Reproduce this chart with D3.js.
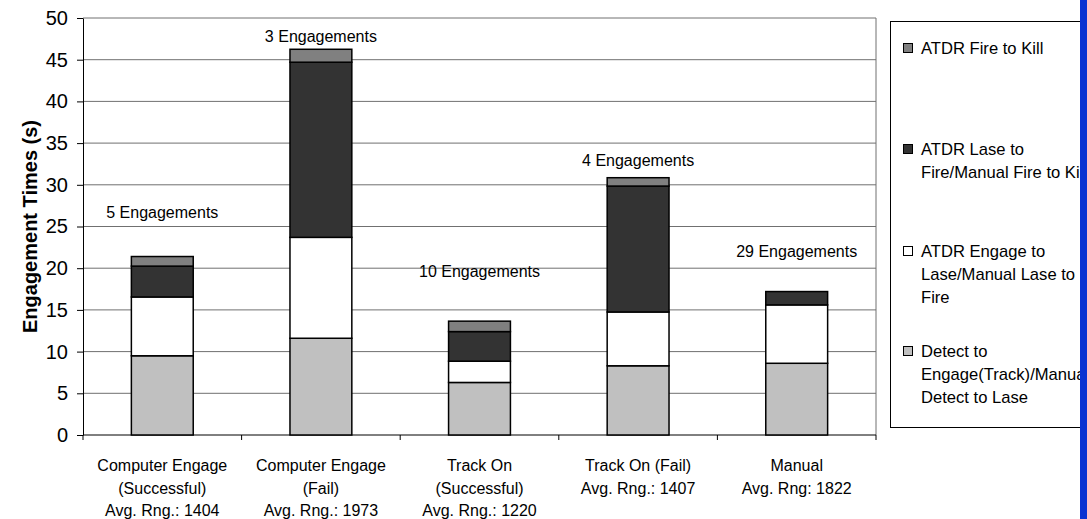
<!DOCTYPE html>
<html>
<head>
<meta charset="utf-8">
<script src="https://cdn.jsdelivr.net/npm/d3@7"></script>
<style>
  body { margin: 0; background: #fff; }
  svg { display: block; font-family: "Liberation Sans", Arial, sans-serif; }
</style>
</head>
<body>
<div id="chart"></div>
<script>
// categories (multi-line axis labels)
const categories = ["CE Success", "CE Fail", "TO Success", "TO Fail", "Manual"];
const categoryLabels = [
  ["Computer Engage", "(Successful)", "Avg. Rng.: 1404"],
  ["Computer Engage", "(Fail)", "Avg. Rng.: 1973"],
  ["Track On", "(Successful)", "Avg. Rng.: 1220"],
  ["Track On (Fail)", "Avg. Rng.: 1407"],
  ["Manual", "Avg. Rng: 1822"]
];

// series values (seconds), bottom to top
const detectToEngage = [9.5, 11.6, 6.3, 8.3, 8.6];
const engageToLase   = [7.05, 12.1, 2.55, 6.45, 7.0];
const laseToFire     = [3.7, 21.0, 3.55, 15.1, 1.6];
const fireToKill     = [1.15, 1.55, 1.25, 1.0, 0];

// engagement count labels and the level (s) they sit at
const engagementLabels = ["5 Engagements", "3 Engagements", "10 Engagements", "4 Engagements", "29 Engagements"];
const engagementLabelLevel = [26.0, 47.1, 18.9, 32.3, 21.3];

const yTicks = [0, 5, 10, 15, 20, 25, 30, 35, 40, 45, 50];

const legendItems = [
  { key: "fire", lines: ["ATDR Fire to Kill"] },
  { key: "lase", lines: ["ATDR Lase to", "Fire/Manual Fire to Kill"] },
  { key: "engage", lines: ["ATDR Engage to", "Lase/Manual Lase to", "Fire"] },
  { key: "detect", lines: ["Detect to", "Engage(Track)/Manual", "Detect to Lase"] }
];

const keys = ["detect", "engage", "lase", "fire"];
const colors = { detect: "#c0c0c0", engage: "#ffffff", lase: "#333333", fire: "#808080" };

const rows = categories.map((c, i) => ({
  cat: c,
  detect: detectToEngage[i],
  engage: engageToLase[i],
  lase: laseToFire[i],
  fire: fireToKill[i]
}));

const margin = { top: 18, right: 211, bottom: 84, left: 83 },
  width = 1087 - margin.left - margin.right,
  height = 519 - margin.top - margin.bottom;

const svg = d3.select("#chart").append("svg")
  .attr("width", 1087)
  .attr("height", 519);

const g = svg.append("g")
  .attr("transform", "translate(" + margin.left + "," + margin.top + ")");

const x = d3.scaleBand().domain(categories).range([0, width]).padding(0);
const y = d3.scaleLinear().domain([0, 50]).range([height, 0]);
const barW = x.step() * 0.39;

// grid lines
g.selectAll(".grid")
  .data(yTicks.slice(1))
  .enter().append("line")
  .attr("x1", 0)
  .attr("x2", width)
  .attr("y1", d => y(d))
  .attr("y2", d => y(d))
  .attr("stroke", "#707070")
  .attr("stroke-width", 1);

// right frame
g.append("line")
  .attr("x1", width).attr("x2", width)
  .attr("y1", 0).attr("y2", height)
  .attr("stroke", "#707070");

// y axis
const yAxis = g.append("g")
  .call(d3.axisLeft(y).tickValues(yTicks).tickSize(6).tickSizeOuter(0).tickPadding(9));
yAxis.select(".domain").attr("stroke", "#000");
yAxis.selectAll(".tick line").attr("stroke", "#000");
yAxis.selectAll(".tick text")
  .attr("font-size", 20)
  .attr("font-family", "Liberation Sans, Arial, sans-serif")
  .attr("fill", "#000");

g.append("text")
  .attr("transform", "rotate(-90)")
  .attr("x", -height / 2)
  .attr("y", -margin.left + 30)
  .attr("dy", "0.35em")
  .attr("text-anchor", "middle")
  .attr("font-size", 20)
  .attr("font-weight", "bold")
  .text("Engagement Times (s)");

// x axis line and boundary ticks
g.append("line")
  .attr("x1", 0).attr("x2", width)
  .attr("y1", height).attr("y2", height)
  .attr("stroke", "#000");

g.selectAll(".xtick")
  .data(d3.range(categories.length + 1))
  .enter().append("line")
  .attr("x1", i => i * x.step())
  .attr("x2", i => i * x.step())
  .attr("y1", height)
  .attr("y2", height + 5)
  .attr("stroke", "#000");

// category labels
categoryLabels.forEach((lines, i) => {
  const t = g.append("text")
    .attr("text-anchor", "middle")
    .attr("font-size", 16)
    .attr("x", x(categories[i]) + x.bandwidth() / 2)
    .attr("y", height + 36);
  lines.forEach((ln, j) => {
    t.append("tspan")
      .attr("x", x(categories[i]) + x.bandwidth() / 2)
      .attr("dy", j === 0 ? 0 : 22.5)
      .text(ln);
  });
});

// stacked bars
const stacked = d3.stack().keys(keys)(rows);

stacked.forEach(layer => {
  g.selectAll(".bar-" + layer.key)
    .data(layer.filter(d => d[1] - d[0] > 0))
    .enter().append("rect")
    .attr("x", d => x(d.data.cat) + (x.bandwidth() - barW) / 2)
    .attr("y", d => y(d[1]))
    .attr("width", barW)
    .attr("height", d => y(d[0]) - y(d[1]))
    .attr("fill", colors[layer.key])
    .attr("stroke", "#000")
    .attr("stroke-width", 1.5);
});

// engagement count labels
g.selectAll(".eng")
  .data(engagementLabels)
  .enter().append("text")
  .attr("text-anchor", "middle")
  .attr("font-size", 16)
  .attr("x", (d, i) => x(categories[i]) + x.bandwidth() / 2)
  .attr("y", (d, i) => y(engagementLabelLevel[i]))
  .text(d => d);

// legend
const legend = svg.append("g");
legend.append("rect")
  .attr("x", 890.5)
  .attr("y", 21.5)
  .attr("width", 220)
  .attr("height", 406)
  .attr("fill", "#fff")
  .attr("stroke", "#000");

const legendTop = [54, 155, 257, 357];
legendItems.forEach((item, i) => {
  const gy = legendTop[i];
  legend.append("rect")
    .attr("x", 903.5)
    .attr("y", gy - 10.5)
    .attr("width", 9)
    .attr("height", 9)
    .attr("fill", colors[item.key])
    .attr("stroke", "#000");
  const t = legend.append("text")
    .attr("font-size", 16.6)
    .attr("x", 921)
    .attr("y", gy);
  item.lines.forEach((ln, j) => {
    t.append("tspan")
      .attr("x", 921)
      .attr("dy", j === 0 ? 0 : 23)
      .text(ln);
  });
});

// blue edge on the right
svg.append("rect")
  .attr("x", 1080)
  .attr("y", 0)
  .attr("width", 7)
  .attr("height", 519)
  .attr("fill", "#0a32d2");
</script>
</body>
</html>
